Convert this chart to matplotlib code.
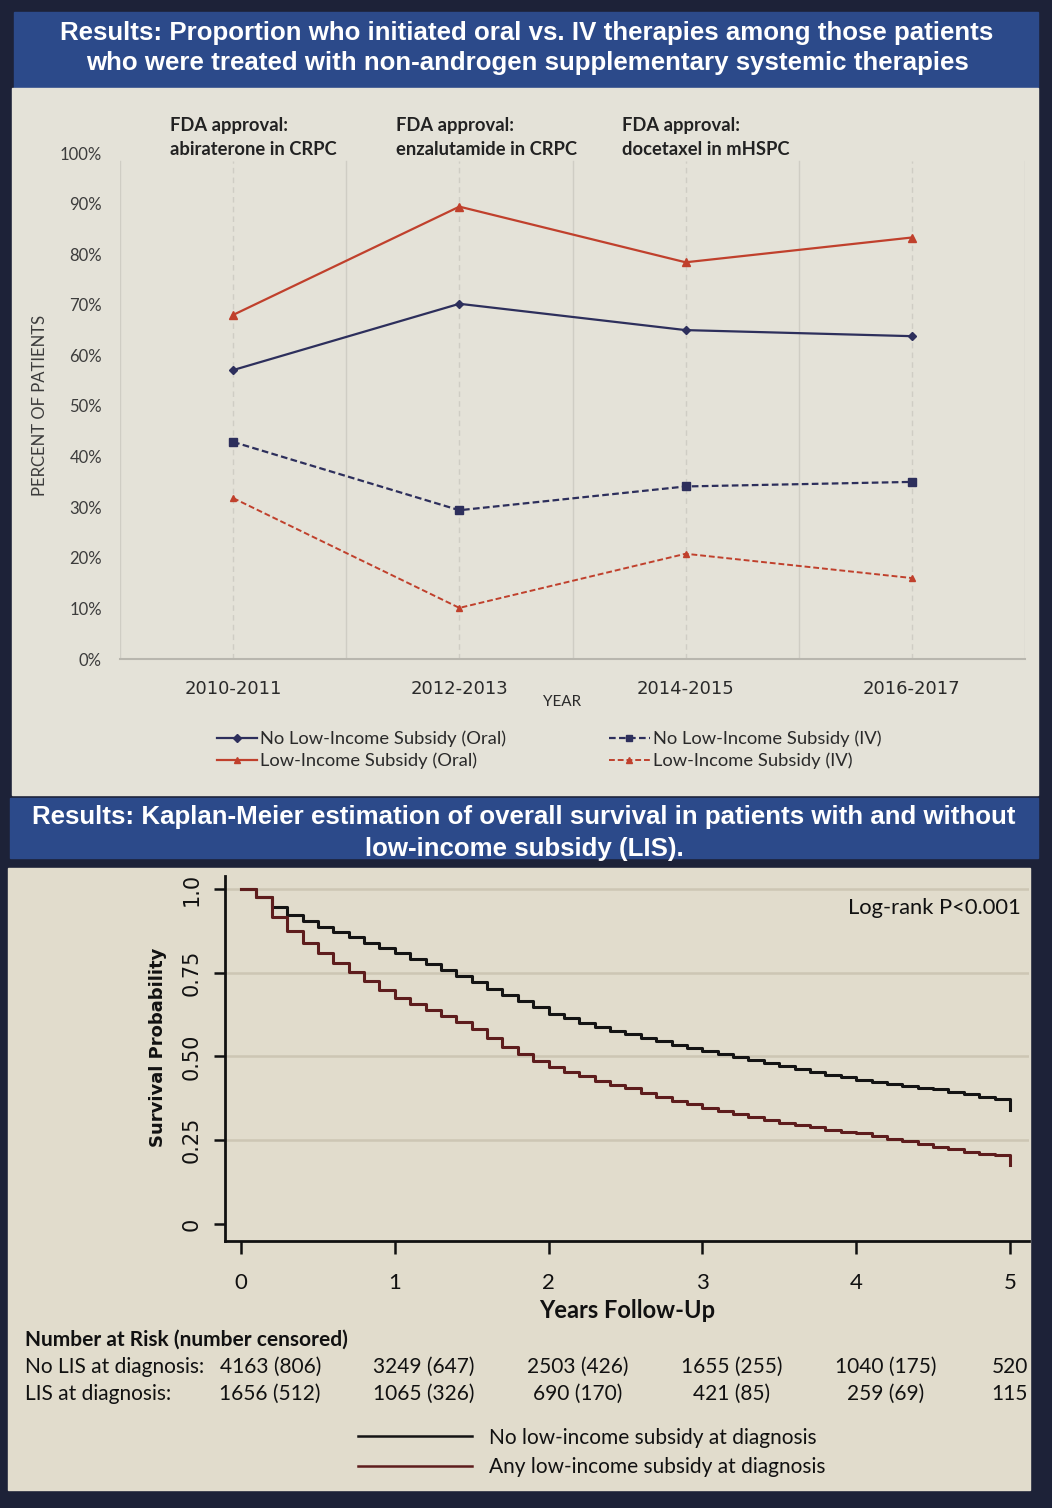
import matplotlib
matplotlib.use('Agg')
import matplotlib.pyplot as plt
from matplotlib.patches import Rectangle
from matplotlib.lines import Line2D
import matplotlib.transforms as mtransforms

# ---- data: treatment proportions (top panel) ----
years = ['2010-2011', '2012-2013', '2014-2015', '2016-2017']
no_lis_oral = [57.1, 70.2, 65.0, 63.8]
lis_oral = [68.0, 89.4, 78.4, 83.3]
no_lis_iv = [42.9, 29.4, 34.1, 35.0]
lis_iv = [31.8, 10.1, 20.8, 16.0]
fda_notes = ['FDA approval:\nabiraterone in CRPC',
             'FDA approval:\nenzalutamide in CRPC',
             'FDA approval:\ndocetaxel in mHSPC']

# ---- data: Kaplan-Meier (bottom panel), read every 0.1 year ----
km_time = [0.0, 0.1, 0.2, 0.3, 0.4, 0.5, 0.6, 0.7, 0.8, 0.9,
           1.0, 1.1, 1.2, 1.3, 1.4, 1.5, 1.6, 1.7, 1.8, 1.9,
           2.0, 2.1, 2.2, 2.3, 2.4, 2.5, 2.6, 2.7, 2.8, 2.9,
           3.0, 3.1, 3.2, 3.3, 3.4, 3.5, 3.6, 3.7, 3.8, 3.9,
           4.0, 4.1, 4.2, 4.3, 4.4, 4.5, 4.6, 4.7, 4.8, 4.9,
           5.0, 5.0]
km_no_lis = [1.000, 0.975, 0.946, 0.922, 0.905, 0.888, 0.872, 0.857, 0.840, 0.824,
             0.808, 0.790, 0.775, 0.758, 0.740, 0.722, 0.702, 0.685, 0.667, 0.648,
             0.628, 0.615, 0.600, 0.588, 0.576, 0.566, 0.555, 0.545, 0.535, 0.526,
             0.517, 0.507, 0.498, 0.490, 0.481, 0.472, 0.463, 0.455, 0.446, 0.438,
             0.430, 0.424, 0.418, 0.412, 0.407, 0.402, 0.395, 0.387, 0.378, 0.372,
             0.364, 0.340]
km_lis = [1.000, 0.975, 0.918, 0.875, 0.840, 0.808, 0.780, 0.753, 0.726, 0.700,
          0.676, 0.658, 0.640, 0.622, 0.604, 0.582, 0.555, 0.527, 0.508, 0.488,
          0.469, 0.455, 0.441, 0.428, 0.416, 0.405, 0.392, 0.380, 0.368, 0.357,
          0.346, 0.337, 0.328, 0.318, 0.310, 0.302, 0.295, 0.288, 0.281, 0.276,
          0.272, 0.264, 0.255, 0.247, 0.238, 0.230, 0.223, 0.216, 0.210, 0.205,
          0.200, 0.176]
risk_years = [0, 1, 2, 3, 4, 5]
risk_no_lis = ['4163 (806)', '3249 (647)', '2503 (426)', '1655 (255)', '1040 (175)', '520']
risk_lis = ['1656 (512)', '1065 (326)', '690 (170)', '421 (85)', '259 (69)', '115']

W, H = 1052, 1508
navy_bg = '#1d2238'
blue_hdr = '#2c4a8a'
NAVY = '#2d2f5c'
RED = '#c0402c'
KM_BLACK = '#141414'
KM_RED = '#5e1d1d'
SANS = ['Lato', 'DejaVu Sans']
HDR = ['Liberation Sans', 'DejaVu Sans']

fig = plt.figure(figsize=(W / 100, H / 100), dpi=100)
fig.patch.set_facecolor(navy_bg)


def rect(x0, y0, x1, y1):
    # pixel box -> figure fraction
    return [x0 / W, 1 - y1 / H, (x1 - x0) / W, (y1 - y0) / H]


def box(x0, y0, x1, y1, color):
    fig.patches.append(Rectangle((x0 / W, 1 - y1 / H), (x1 - x0) / W, (y1 - y0) / H,
                                 transform=fig.transFigure, color=color, zorder=-5))


def ftext(x, y, s, **kw):
    return fig.text(x / W, 1 - y / H, s, **kw)


# background panels
box(14, 12, 1038, 88, blue_hdr)
box(12, 88, 1038, 795, '#e4e2d8')
box(10, 798, 1038, 858, blue_hdr)
box(8, 868, 1030, 1490, '#e1dccc')

hdr_kw = dict(ha='center', va='center', color='white', fontsize=18.6, fontweight='bold', family=HDR)
ftext(527, 33, 'Results: Proportion who initiated oral vs. IV therapies among those patients', **hdr_kw)
ftext(527, 63, 'who were treated with non-androgen supplementary systemic therapies', **hdr_kw)
ftext(524, 817, 'Results: Kaplan-Meier estimation of overall survival in patients with and without', **hdr_kw)
ftext(524, 849, 'low-income subsidy (LIS).', **hdr_kw)

# ---------------- top chart ----------------
ax = fig.add_axes(rect(120, 153, 1025, 659))
ax.set_facecolor('none')
xs = list(range(len(years)))
ax.set_xlim(-0.5, len(years) - 0.5)
ax.set_ylim(0, 100)
for i in range(len(years) + 1):
    ax.axvline(i - 0.5, ymax=0.985, color='#cfcdc4', lw=1.0, zorder=1)
for x in xs:
    ax.axvline(x, ymax=0.985, color='#cfcdc4', lw=1.0, ls=(0, (4, 3)), zorder=1)

ax.plot(xs, no_lis_oral, color=NAVY, lw=1.6, marker='D', ms=4.5, label='No Low-Income Subsidy (Oral)', zorder=3)
ax.plot(xs, lis_oral, color=RED, lw=1.6, marker='^', ms=6, label='Low-Income Subsidy (Oral)', zorder=3)
ax.plot(xs, no_lis_iv, color=NAVY, lw=1.6, ls=(0, (3, 1.5)), marker='s', ms=6, label='No Low-Income Subsidy (IV)', zorder=3)
ax.plot(xs, lis_iv, color=RED, lw=1.4, ls=(0, (3, 1.5)), marker='^', ms=5, label='Low-Income Subsidy (IV)', zorder=3)

for s in ['top', 'right', 'left']:
    ax.spines[s].set_visible(False)
ax.spines['bottom'].set_color('#b8b6ae')
ax.spines['bottom'].set_linewidth(1.5)
ax.set_yticks(range(0, 101, 10))
ax.set_yticklabels([f'{v}%' for v in range(0, 101, 10)], family=SANS, fontsize=12, color='#3c3c3c')
ax.set_xticks(xs)
ax.set_xticklabels(years, family='DejaVu Sans', fontsize=13, color='#2a2a2a')
ax.tick_params(axis='y', length=0, pad=13)
ax.tick_params(axis='x', length=0, pad=15)

note_tr = mtransforms.blended_transform_factory(ax.transData, ax.transAxes)
for i, note in enumerate(fda_notes):
    ax.text(i - 0.28, 1.071, note, transform=note_tr,
            ha='left', va='top', fontsize=13.2, fontweight='bold', color='#222222',
            family=SANS, linespacing=1.5)

ftext(40, 405, 'PERCENT OF PATIENTS', rotation=90, ha='center', va='center',
      fontsize=12, color='#3c3c3c', family=SANS)
ftext(562, 702, 'YEAR', ha='center', va='center', fontsize=11, color='#2a2a2a', family=SANS)

handles, labels = ax.get_legend_handles_labels()
fig.legend(handles, labels, ncol=2, loc='upper left',
           bbox_to_anchor=(200 / W, 1 - 714 / H), frameon=False,
           prop={'family': SANS, 'size': 13.2}, handlelength=2.2,
           handletextpad=0.2, columnspacing=5.6, labelspacing=0.3,
           labelcolor='#2a2a2a', markerscale=0.8)

# ---------------- Kaplan-Meier ----------------
km = fig.add_axes(rect(225, 876, 1029, 1241))
km.set_facecolor('none')
km.set_xlim(-0.104, 5.124)
km.set_ylim(-0.051, 1.039)
for y in [0.25, 0.5, 0.75, 1.0]:
    km.axhline(y, color='#cdc6b4', lw=1.8, zorder=1)
km.plot(km_time, km_no_lis, drawstyle='steps-post', color=KM_BLACK, lw=2.2, zorder=3)
km.plot(km_time, km_lis, drawstyle='steps-post', color=KM_RED, lw=2.2, zorder=3)

for s in ['top', 'right']:
    km.spines[s].set_visible(False)
for s in ['left', 'bottom']:
    km.spines[s].set_color('#111111')
    km.spines[s].set_linewidth(2)
km.set_xticks(risk_years)
km.set_xticklabels([str(v) for v in risk_years], family=SANS, fontsize=16, color='#111111')
km.set_yticks([0, 0.25, 0.5, 0.75, 1.0])
km.set_yticklabels(['0', '0.25', '0.50', '0.75', '1.0'], rotation=90, va='center',
                   family='DejaVu Sans', fontsize=15, color='#111111')
km.tick_params(axis='x', length=9, width=1.8, pad=14, color='#111111')
km.tick_params(axis='y', length=8, width=1.8, pad=9, color='#111111')

ftext(158, 1047, 'Survival Probability', rotation=90, ha='center', va='center',
      fontsize=13, fontweight='bold', family='DejaVu Sans', color='#111111')
ftext(627, 1311, 'Years Follow-Up', ha='center', va='center', fontsize=17,
      fontweight='bold', family=SANS, color='#111111')
ftext(1021, 908, 'Log-rank P<0.001', ha='right', va='center', fontsize=15.8,
      family=SANS, color='#111111')

# number at risk table
tbl = dict(va='center', fontsize=15, family=SANS, color='#111111')
ftext(25, 1340, 'Number at Risk (number censored)', ha='left', fontweight='bold', **tbl)
ftext(25, 1367, 'No LIS at diagnosis:', ha='left', **tbl)
ftext(25, 1394, 'LIS at diagnosis:', ha='left', **tbl)
tr = mtransforms.blended_transform_factory(km.transData, fig.transFigure)
for t, a, b in zip(risk_years, risk_no_lis, risk_lis):
    xo = t + 0.19 if t < 5 else t
    km.text(xo, 1 - 1367 / H, a, transform=tr, ha='center', **tbl)
    km.text(xo, 1 - 1394 / H, b, transform=tr, ha='center', **tbl)

km_handles = [Line2D([], [], color=KM_BLACK, lw=1.8), Line2D([], [], color=KM_RED, lw=1.8)]
fig.legend(km_handles, ['No low-income subsidy at diagnosis', 'Any low-income subsidy at diagnosis'],
           loc='upper left', bbox_to_anchor=(339 / W, 1 - 1409 / H), frameon=False,
           prop={'family': SANS, 'size': 15}, handlelength=5.5, handletextpad=0.8,
           labelspacing=0.45, labelcolor='#111111')

fig.savefig('out.png', dpi=100, facecolor=fig.get_facecolor())
